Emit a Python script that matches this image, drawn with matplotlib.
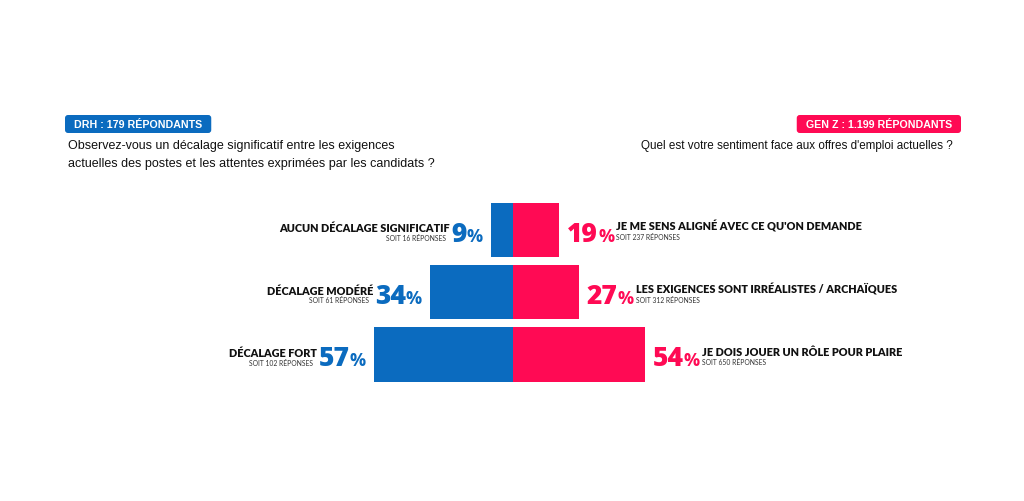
import matplotlib
matplotlib.use("Agg")
import matplotlib.pyplot as plt
from matplotlib.transforms import offset_copy, IdentityTransform
from matplotlib.patches import FancyBboxPatch

drh_labels = ["AUCUN DÉCALAGE SIGNIFICATIF", "DÉCALAGE MODÉRÉ", "DÉCALAGE FORT"]
drh_pct = [9, 34, 57]
drh_counts = [16, 61, 102]

genz_labels = ["JE ME SENS ALIGNÉ AVEC CE QU'ON DEMANDE",
               "LES EXIGENCES SONT IRRÉALISTES / ARCHAÏQUES",
               "JE DOIS JOUER UN RÔLE POUR PLAIRE"]
genz_pct = [19, 27, 54]
genz_counts = [237, 312, 650]

drh_title = "DRH : 179 RÉPONDANTS"
drh_question = ["Observez-vous un décalage significatif entre les exigences",
                "actuelles des postes et les attentes exprimées par les candidats ?"]
genz_title = "GEN Z : 1.199 RÉPONDANTS"
genz_question = "Quel est votre sentiment face aux offres d'emploi actuelles ?"

BLUE = "#0b6bbf"
RED = "#ff0a54"
DARK = "#111111"
W, H = 1024, 502

fig = plt.figure(figsize=(W / 100, H / 100), dpi=100)
ax = fig.add_axes([0, 0, 1, 1])
ax.axis("off")
# 0 % at x=513 px, 2.44 px per %; rows 62 px apart, first centred at y=231 px
ax.set_xlim(-513 / 2.44, (W - 513) / 2.44)
ax.set_ylim((H - 231) / 62.25, -231 / 62.25)

rows = list(range(len(drh_pct)))
ax.barh(rows, [-v for v in drh_pct], height=0.87, color=BLUE, linewidth=0)
ax.barh(rows, genz_pct, height=0.87, color=RED, linewidth=0)

renderer = fig.canvas.get_renderer()
BIG = "Open Sans"
LAB = "Lato"


def px_text(x, y, dx, dy, s, **kw):
    # dx, dy in pixels, dy positive = down
    tr = offset_copy(ax.transData, fig=fig, x=dx, y=-dy, units="dots")
    return ax.text(x, y, s, transform=tr, va="baseline", **kw)


def width(t):
    return t.get_window_extent(renderer).width


for i in rows:
    # DRH side (left)
    x0 = -drh_pct[i]
    pct = px_text(x0, i, -8, 11, "%", ha="right", color=BLUE, size=13,
                  family=BIG, weight="bold")
    w1 = width(pct)
    num = px_text(x0, i, -8 - w1, 11, str(drh_pct[i]), ha="right", color=BLUE,
                  size=19, family=BIG, weight="heavy")
    w2 = width(num)
    edge = -8 - w1 - w2 - 2
    px_text(x0, i, edge, 1.5, drh_labels[i], ha="right", color=DARK, size=7.8,
            family=LAB, weight="heavy")
    px_text(x0, i, edge - 4, 10, f"SOIT {drh_counts[i]} RÉPONSES", ha="right",
            color="#333333", size=4.9, family=LAB)

    # Gen Z side (right)
    x1 = genz_pct[i]
    num = px_text(x1, i, 8, 11, str(genz_pct[i]), ha="left", color=RED,
                  size=19, family=BIG, weight="heavy")
    w2 = width(num)
    pct = px_text(x1, i, 8 + w2, 11, "%", ha="left", color=RED, size=13,
                  family=BIG, weight="bold")
    w1 = width(pct)
    edge = 8 + w2 + w1 + 2
    px_text(x1, i, edge, 0, genz_labels[i], ha="left", color=DARK, size=7.8,
            family=LAB, weight="heavy")
    px_text(x1, i, edge, 9.5, f"SOIT {genz_counts[i]} RÉPONSES", ha="left",
            color="#333333", size=4.9, family=LAB)


def header(x, s, color, ha):
    t = fig.text(x / W, 1 - 128.5 / H, s, ha=ha, va="baseline", color="white",
                 size=7.7, family="Liberation Sans", weight="bold", zorder=3)
    bb = t.get_window_extent(renderer)
    box = FancyBboxPatch((bb.x0 - 9, H - 134), bb.width + 18, 18,
                         boxstyle="round,pad=0,rounding_size=3",
                         transform=IdentityTransform(), fc=color, ec="none",
                         zorder=2)
    fig.add_artist(box)


header(74, drh_title, BLUE, "left")
header(952, genz_title, RED, "right")

for k, line in enumerate(drh_question):
    fig.text(68 / W, 1 - (149 + 18 * k) / H, line, ha="left", va="baseline",
             size=9, family="Liberation Sans", color=DARK)
fig.text(953 / W, 1 - 149 / H, genz_question, ha="right", va="baseline",
         size=8.4, family="Liberation Sans", color=DARK)

fig.savefig("out.png", dpi=100, facecolor="white")
